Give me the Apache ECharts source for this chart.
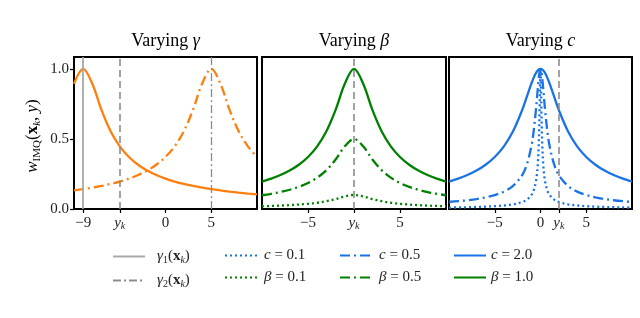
<!DOCTYPE html>
<html><head><meta charset="utf-8">
<script src="https://cdn.jsdelivr.net/npm/echarts@6/dist/echarts.min.js"></script>
<style>html,body{margin:0;padding:0;background:#fff}#c{width:640px;height:318px}</style>
</head><body><div id="c"></div>
<script>
// ---- data ----
const xsA = [-10,-9,-8,-7,-6,-5,-4,-3,-2,-1,0,1,2,3,4,5,6,7,8,9,10];
const gamma1Curve = [0.8944,1,0.8944,0.7071,0.5547,0.4472,0.3714,0.3162,0.2747,0.2425,0.2169,0.1961,0.1789,0.1644,0.1521,0.1414,0.1322,0.1240,0.1168,0.1104,0.1047];
const gamma2Curve = [0.1322,0.1414,0.1521,0.1644,0.1789,0.1961,0.2169,0.2425,0.2747,0.3162,0.3714,0.4472,0.5547,0.7071,0.8944,1,0.8944,0.7071,0.5547,0.4472,0.3714];
const beta10 = [0.1961,0.2169,0.2425,0.2747,0.3162,0.3714,0.4472,0.5547,0.7071,0.8944,1,0.8944,0.7071,0.5547,0.4472,0.3714,0.3162,0.2747,0.2425,0.2169,0.1961];
const beta05 = [0.0981,0.1085,0.1213,0.1374,0.1581,0.1857,0.2236,0.2774,0.3536,0.4472,0.5,0.4472,0.3536,0.2774,0.2236,0.1857,0.1581,0.1374,0.1213,0.1085,0.0981];
const beta01 = [0.0196,0.0217,0.0243,0.0275,0.0316,0.0371,0.0447,0.0555,0.0707,0.0894,0.1,0.0894,0.0707,0.0555,0.0447,0.0371,0.0316,0.0275,0.0243,0.0217,0.0196];
const xsC = [-10,-9,-8,-7,-6,-5,-4,-3,-2,-1.5,-1,-0.75,-0.5,-0.4,-0.3,-0.2,-0.15,-0.1,-0.05,-0.025,0,0.025,0.05,0.1,0.15,0.2,0.3,0.4,0.5,0.75,1,1.5,2,3,4,5,6,7,8,9,10];
const c20 = [0.1961,0.2169,0.2425,0.2747,0.3162,0.3714,0.4472,0.5547,0.7071,0.8,0.8944,0.9363,0.9701,0.9806,0.9889,0.9950,0.9972,0.9988,0.9997,0.9999,1,0.9999,0.9997,0.9988,0.9972,0.9950,0.9889,0.9806,0.9701,0.9363,0.8944,0.8,0.7071,0.5547,0.4472,0.3714,0.3162,0.2747,0.2425,0.2169,0.1961];
const c05 = [0.0499,0.0555,0.0624,0.0712,0.0830,0.0995,0.1240,0.1644,0.2425,0.3162,0.4472,0.5547,0.7071,0.7809,0.8575,0.9285,0.9578,0.9806,0.9950,0.9988,1,0.9988,0.9950,0.9806,0.9578,0.9285,0.8575,0.7809,0.7071,0.5547,0.4472,0.3162,0.2425,0.1644,0.1240,0.0995,0.0830,0.0712,0.0624,0.0555,0.0499];
const c01 = [0.0100,0.0111,0.0125,0.0143,0.0167,0.0200,0.0250,0.0333,0.0499,0.0665,0.0995,0.1322,0.1961,0.2425,0.3162,0.4472,0.5547,0.7071,0.8944,0.9701,1,0.9701,0.8944,0.7071,0.5547,0.4472,0.3162,0.2425,0.1961,0.1322,0.0995,0.0665,0.0499,0.0333,0.0250,0.0200,0.0167,0.0143,0.0125,0.0111,0.0100];
const gamma1 = -9, gamma2 = 5;
const ykPanels = [-5, 0, 2];
const p1Ticks = [-9,-5,0,5], p1Labels = ['−9','yk','0','5'];
const p2Ticks = [-5,0,5], p2Labels = ['−5','yk','5'];
const p3Ticks = [-5,0,2,5], p3Labels = ['−5','0','yk','5'];
const yTicks = [0,0.5,1];
const titles = ['γ','β','c'];

// ---- style ----
const ORANGE='#ff7f0e', GREEN='#008000', BLUE='#1a73e6', GRAY='#8c8c8c', LGRAY='#a8a8a8';
const SERIF='"Liberation Serif","DejaVu Serif",serif';
const DASHDOT=[10,4,2,4], DOT=[2,3], DASH=[7,4];
const LW=2.3;
const pair=(xs,ys)=>xs.map((x,i)=>[x,ys[i]]);
function mkRich(fs,ss,pad){
  return {
    n:{fontFamily:SERIF,fontSize:fs,color:'#222',lineHeight:fs+3},
    i:{fontFamily:SERIF,fontStyle:'italic',fontSize:fs,color:'#222',lineHeight:fs+3},
    b:{fontFamily:SERIF,fontWeight:'bold',fontSize:fs,color:'#222',lineHeight:fs+3},
    s:{fontFamily:SERIF,fontSize:ss,color:'#222',lineHeight:fs+3,padding:[pad,0,0,0]},
    si:{fontFamily:SERIF,fontStyle:'italic',fontSize:ss,color:'#222',lineHeight:fs+3,padding:[pad,0,0,0]}
  };
}
const richTick=mkRich(15,10,7), richLeg=mkRich(15,10,7), richY=mkRich(17,11,8);
const grids=[{left:74,top:57,width:183,height:152},{left:262,top:57,width:184,height:152},{left:449,top:57,width:183,height:152}];
const tickSets=[[p1Ticks,p1Labels],[p2Ticks,p2Labels],[p3Ticks,p3Labels]];
const xAxes=tickSets.map((t,gi)=>({
  type:'value',gridIndex:gi,min:-10,max:10,
  axisLine:{show:false,onZero:false},splitLine:{show:false},
  axisTick:{show:true,customValues:t[0],length:4,lineStyle:{color:'#000',width:1.2}},
  axisLabel:{show:true,customValues:t[0],margin:5,
    formatter:v=>{const l=t[1][t[0].indexOf(v)];return l==='yk'?'{i|y}{si|k}':'{n|'+l+'}';},
    rich:richTick}
}));
const yAxes=[0,1,2].map(gi=>({
  type:'value',gridIndex:gi,min:0,max:1.085,
  axisLine:{show:false,onZero:false},splitLine:{show:false},
  axisTick:{show:gi===0,customValues:yTicks,length:4,lineStyle:{color:'#000',width:1.2}},
  axisLabel:{show:gi===0,customValues:yTicks,margin:5,formatter:v=>'{n|'+v.toFixed(1)+'}',rich:richTick}
}));
function curve(name,gi,xs,ys,color,type){
  return {name:name,type:'line',xAxisIndex:gi,yAxisIndex:gi,data:pair(xs,ys),symbol:'none',smooth:0.35,
    lineStyle:{color:color,width:LW,type:type},itemStyle:{color:color},z:3,silent:true};
}
function vline(name,gi,x,color,type,w){
  return {name:name,type:'line',xAxisIndex:gi,yAxisIndex:gi,data:[],symbol:'none',
    lineStyle:{color:color,width:w,type:type},itemStyle:{color:color},z:2,
    markLine:{silent:true,symbol:'none',label:{show:false},lineStyle:{color:color,width:w,type:type},data:[{xAxis:x}]}};
}
const series=[
  vline('γ1',0,gamma1,LGRAY,'solid',1.8),
  vline('γ2',0,gamma2,GRAY,[8,3,2,3],1.3),
  vline('yk0',0,ykPanels[0],GRAY,DASH,1.6),
  vline('yk1',1,ykPanels[1],GRAY,DASH,1.6),
  vline('yk2',2,ykPanels[2],GRAY,DASH,1.6),
  curve('g1curve',0,xsA,gamma1Curve,ORANGE,'solid'),
  curve('g2curve',0,xsA,gamma2Curve,ORANGE,DASHDOT),
  curve('β=1.0',1,xsA,beta10,GREEN,'solid'),
  curve('β=0.5',1,xsA,beta05,GREEN,DASHDOT),
  curve('β=0.1',1,xsA,beta01,GREEN,DOT),
  curve('c=2.0',2,xsC,c20,BLUE,'solid'),
  curve('c=0.5',2,xsC,c05,BLUE,DASHDOT),
  curve('c=0.1',2,xsC,c01,BLUE,DOT)
];
const legendText={
  'γ1':'{i|γ}{s|1}{n|(}{b|x}{si|k}{n|)}','γ2':'{i|γ}{s|2}{n|(}{b|x}{si|k}{n|)}',
  'c=0.1':'{i|c}{n| = 0.1}','c=0.5':'{i|c}{n| = 0.5}','c=2.0':'{i|c}{n| = 2.0}',
  'β=0.1':'{i|β}{n| = 0.1}','β=0.5':'{i|β}{n| = 0.5}','β=1.0':'{i|β}{n| = 1.0}'
};
const legCols=[[112,['γ1','γ2'],12],[224,['c=0.1','β=0.1'],7],[339,['c=0.5','β=0.5'],7],[453,['c=2.0','β=1.0'],5]];
const legends=legCols.map(c=>({
  orient:'vertical',left:c[0],top:248,padding:0,itemGap:7,itemWidth:32,itemHeight:18,
  selectedMode:false,data:c[1],
  itemStyle:{opacity:0},
  formatter:n=>legendText[n],
  textStyle:{rich:richLeg,padding:[0,0,0,c[2]-5]}
}));
const graphics=[
  {type:'text',x:33,y:136,rotation:Math.PI/2,style:{
    text:'{i|w}{s|IMQ}{n|(}{b|x}{si|k}{n|, }{i|y}{n|)}',rich:richY,align:'center',verticalAlign:'middle'}}
];
titles.forEach((t,gi)=>{
  graphics.push({type:'text',x:grids[gi].left+grids[gi].width/2,y:41,style:{
    text:'{t|Varying }{ti|'+t+'}',align:'center',verticalAlign:'middle',
    rich:{t:{fontFamily:SERIF,fontSize:18,color:'#222'},ti:{fontFamily:SERIF,fontSize:18,fontStyle:'italic',color:'#222'}}}});
});
const chart=echarts.init(document.getElementById('c'),null,{renderer:'canvas'});
chart.setOption({
  animation:false,backgroundColor:'#fff',
  grid:grids.map(g=>Object.assign({show:true,borderColor:'#000',borderWidth:2,backgroundColor:'transparent'},g)),
  xAxis:xAxes,yAxis:yAxes,series:series,legend:legends,graphic:graphics
});
</script></body></html>
